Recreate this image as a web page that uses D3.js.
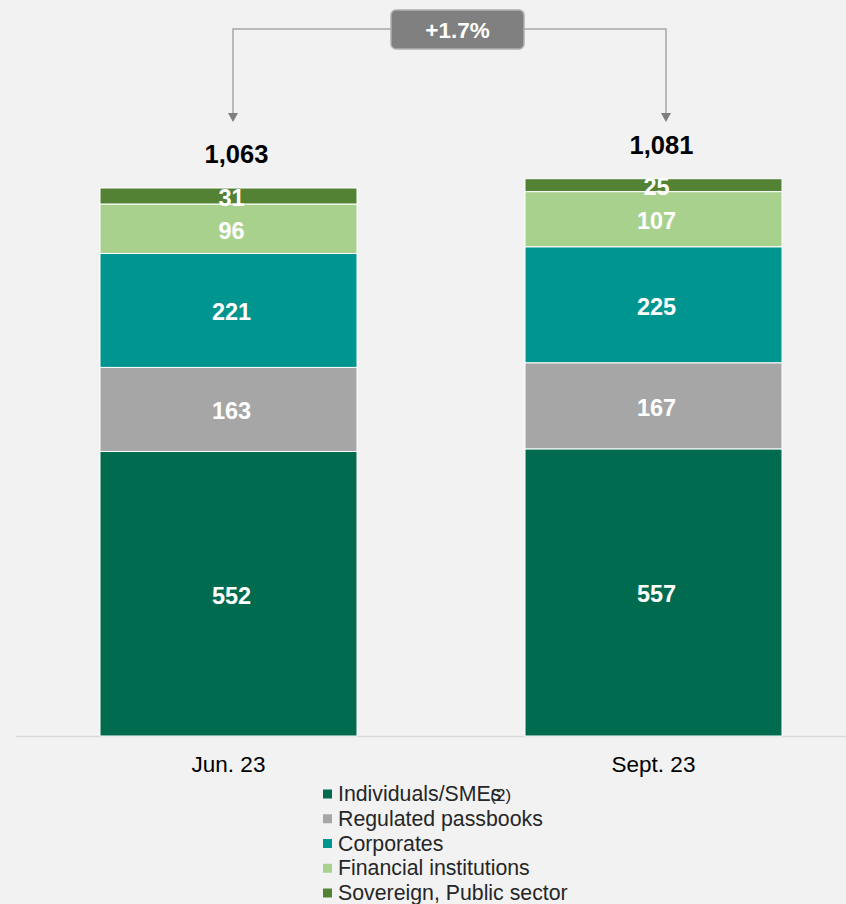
<!DOCTYPE html>
<html>
<head>
<meta charset="utf-8">
<script src="https://cdn.jsdelivr.net/npm/d3@7"></script>
<style>
  html, body { margin: 0; padding: 0; background: #f2f2f2; }
  svg { display: block; font-family: "Liberation Sans", Arial, sans-serif; }
</style>
</head>
<body>
<svg id="chart" width="846" height="904"></svg>
<script>
// Deposits by customer segment (EUR bn)
const periods = ["Jun. 23", "Sept. 23"];
const segments = ["Individuals/SMEs", "Regulated passbooks", "Corporates", "Financial institutions", "Sovereign, Public sector"];
const individuals = [552, 557];
const passbooks = [163, 167];
const corporates = [221, 225];
const financials = [96, 107];
const sovereign = [31, 25];
const totals = [1063, 1081];
const totalLabels = ["1,063", "1,081"];
const growthLabel = "+1.7%";
const colors = ["#006b4f", "#a6a6a6", "#00958f", "#a9d18e", "#548235"];

const series = [individuals, passbooks, corporates, financials, sovereign];
const rows = periods.map((p, i) => {
  const r = { period: p };
  segments.forEach((s, k) => { r[s] = series[k][i]; });
  return r;
});

const svg = d3.select("#chart");

const x = d3.scaleBand().domain(periods).range([-68, 950]).paddingInner(0.3953).paddingOuter(0.3953);
const y = d3.scaleLinear().domain([0, 1063]).range([736, 188]);

const stacked = d3.stack().keys(segments)(rows);

// Baseline axis
svg.append("line")
  .attr("x1", 16).attr("x2", 846)
  .attr("y1", y(0) + 0.5).attr("y2", y(0) + 0.5)
  .attr("stroke", "#d9d9d9").attr("stroke-width", 1.5);

// Stacked bars
const layer = svg.append("g").selectAll("g").data(stacked).join("g")
  .attr("fill", (d, i) => colors[i]);

layer.selectAll("rect").data(d => d).join("rect")
  .attr("x", d => x(d.data.period))
  .attr("width", x.bandwidth())
  .attr("y", d => y(d[1]))
  .attr("height", d => y(d[0]) - y(d[1]))
  .attr("stroke", "#ffffff").attr("stroke-width", 1);

// Segment value labels
layer.selectAll("text").data(d => d.map(v => ({ v, key: d.key }))).join("text")
  .attr("x", d => x(d.v.data.period) + x.bandwidth() / 2 + 3)
  .attr("y", d => (y(d.v[0]) + y(d.v[1])) / 2 + 2)
  .attr("text-anchor", "middle")
  .attr("dominant-baseline", "central")
  .attr("fill", "#ffffff")
  .attr("font-size", 23.5).attr("font-weight", "bold")
  .text(d => d.v.data[d.key]);

// Totals above bars
svg.append("g").selectAll("text").data(periods).join("text")
  .attr("x", p => x(p) + x.bandwidth() / 2 + 8)
  .attr("y", (p, i) => y(totals[i]) - 25)
  .attr("text-anchor", "middle")
  .attr("fill", "#000000")
  .attr("font-size", 25.5).attr("font-weight", "bold")
  .text((p, i) => totalLabels[i]);

// X axis labels
svg.append("g").selectAll("text").data(periods).join("text")
  .attr("x", p => x(p) + x.bandwidth() / 2)
  .attr("y", 772)
  .attr("text-anchor", "middle")
  .attr("fill", "#000000")
  .attr("font-size", 22.5)
  .text(p => p);

// Growth connector
const xl = x(periods[0]) + x.bandwidth() / 2 + 4.5;
const xr = x(periods[1]) + x.bandwidth() / 2 + 12.5;
const yTop = 29, yArrow = 122;
const conn = svg.append("g").attr("stroke", "#a6a6a6").attr("stroke-width", 1.5).attr("fill", "none");
conn.append("path").attr("d", `M${xl},${yArrow - 8} V${yTop} H${xr} V${yArrow - 8}`);
svg.append("g").attr("fill", "#7f7f7f").selectAll("path").data([xl, xr]).join("path")
  .attr("d", cx => `M${cx - 5},${yArrow - 9} L${cx + 5},${yArrow - 9} L${cx},${yArrow} Z`);

const boxW = 133, boxH = 39, boxX = 391, boxY = 10;
svg.append("rect")
  .attr("x", boxX).attr("y", boxY).attr("width", boxW).attr("height", boxH)
  .attr("rx", 5).attr("fill", "#808080").attr("stroke", "#b0b0b0").attr("stroke-width", 1.5);
svg.append("text")
  .attr("x", boxX + boxW / 2).attr("y", boxY + boxH / 2 + 1)
  .attr("text-anchor", "middle").attr("dominant-baseline", "central")
  .attr("fill", "#ffffff").attr("font-size", 22.5).attr("font-weight", "bold")
  .text(growthLabel);

// Legend
const legend = svg.append("g").attr("transform", "translate(323,794)");
const item = legend.selectAll("g").data(segments).join("g")
  .attr("transform", (d, i) => `translate(0,${i * 24.75})`);
item.append("rect")
  .attr("x", 0).attr("y", -4.5).attr("width", 9).attr("height", 9)
  .attr("fill", (d, i) => colors[i]);
const lt = item.append("text")
  .attr("x", 15).attr("y", 0)
  .attr("dominant-baseline", "central")
  .attr("fill", "#262626")
  .attr("font-size", 21.3)
  .text(d => d);
// footnote marker sits over the final letter
lt.filter((d, i) => i === 0).append("tspan")
  .attr("dx", -11).attr("dy", 1).attr("font-size", 17).text("(2)");
</script>
</body>
</html>
